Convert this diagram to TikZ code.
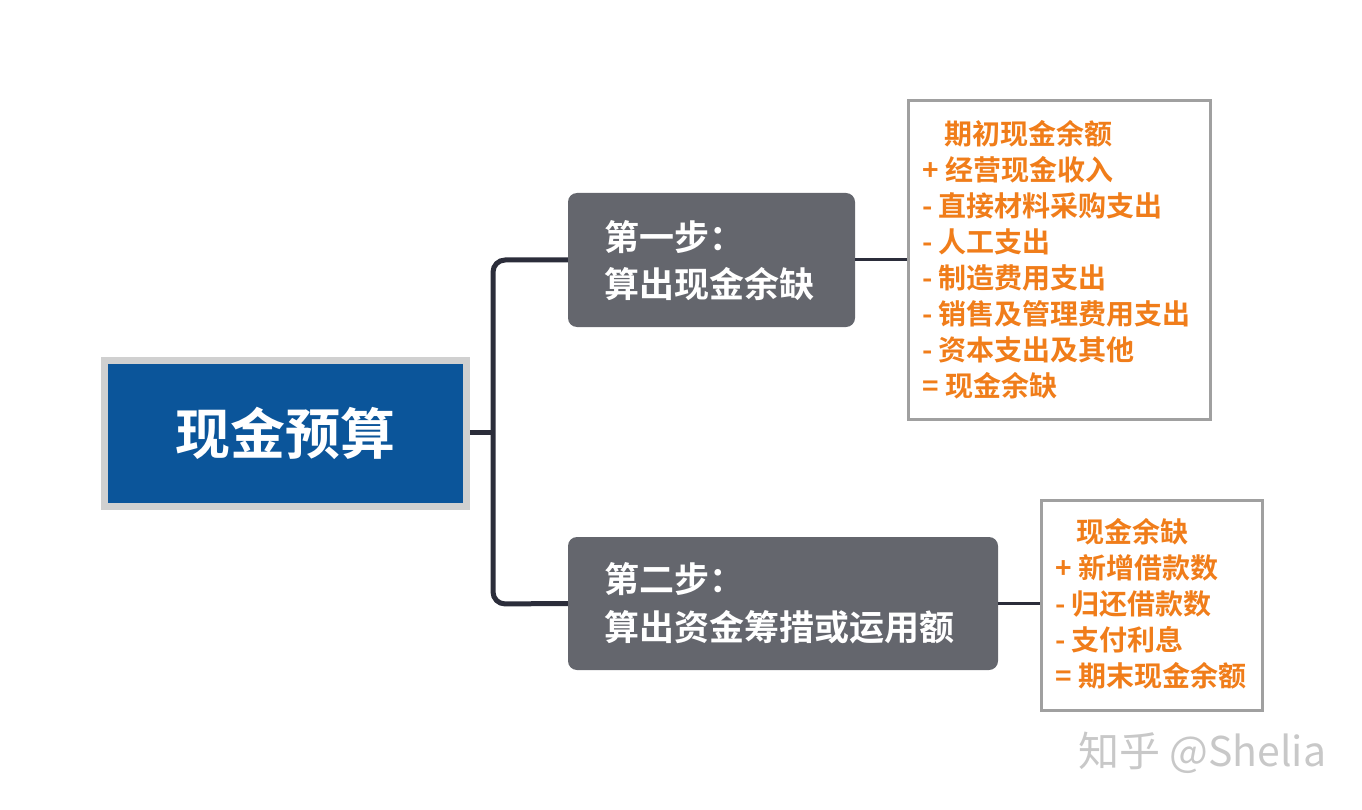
\documentclass[tikz,border=0pt]{standalone}
\usepackage{fontspec}
\setmainfont{Noto Sans CJK SC}[BoldFont={Noto Sans CJK SC Bold}]
\definecolor{rootblue}{HTML}{0B559A}
\definecolor{rootgray}{HTML}{D0D0D0}
\definecolor{stepgray}{HTML}{64666D}
\definecolor{linedark}{HTML}{2B2D3A}
\definecolor{orange}{HTML}{F07D1A}
\definecolor{listborder}{HTML}{A0A0A0}
\definecolor{wm}{HTML}{C8C8C8}
\begin{document}
\begin{tikzpicture}[x=1pt,y=-1pt,
  stepbox/.style={fill=stepgray,rounded corners=9pt,inner sep=0pt},
  steptext/.style={text=white,font=\fontsize{35}{40}\selectfont\bfseries,anchor=west,inner sep=0pt},
  item/.style={text=orange,font=\fontsize{28}{32}\selectfont\bfseries,anchor=west,inner sep=0pt},
  listbox/.style={draw=listborder,line width=3pt},
  conn/.style={draw=linedark,line width=5pt},
  thin/.style={draw=linedark,line width=3pt}]
\useasboundingbox (0,0) rectangle (1362,810);
% root
\fill[rootgray] (101,357) rectangle (470,510);
\node[fill=rootblue,minimum width=355pt,minimum height=139pt,inner sep=0pt,text=white,font=\fontsize{55}{64}\selectfont\bfseries] (root) at (285.5,433.5) {现金预算};
% step boxes
\node[stepbox,minimum width=287pt,minimum height=134pt] (s1) at (711.5,260) {};
\node[stepbox,minimum width=430pt,minimum height=133pt] (s2) at (783,603.5) {};
\node[steptext] (s1a) at (604,237) {第一步：};
\node[steptext] (s1b) at (604,284) {算出现金余缺};
\node[steptext] (s2a) at (604,579) {第二步：};
\node[steptext] (s2b) at (604,627) {算出资金筹措或运用额};
% connectors
\coordinate (j) at (493,432);
\draw[conn] (470,432) -- (j);
\draw[conn,rounded corners=12pt] (s1.west) -- (493,260) -- (493,604) -- (s2.west);
% lists
\node[listbox,minimum width=302pt,minimum height=318pt] (l1) at (1059,260) {};
\node[listbox,minimum width=221pt,minimum height=210pt] (l2) at (1151.5,605) {};
\draw[thin] (s1.east) -- (l1.west|-s1.east);
\draw[thin] (s2.east) -- (l2.west|-s2.east);
\node[item] (a1) at (944,134) {期初现金余额};
\node[item] (a2) at (922,170) {+ 经营现金收入};
\node[item] (a3) at (922,206) {- 直接材料采购支出};
\node[item] (a4) at (922,242) {- 人工支出};
\node[item] (a5) at (922,278) {- 制造费用支出};
\node[item] (a6) at (922,314) {- 销售及管理费用支出};
\node[item] (a7) at (922,350) {- 资本支出及其他};
\node[item] (a8) at (922,386) {= 现金余缺};
\node[item] (b1) at (1076,532) {现金余缺};
\node[item] (b2) at (1055,568) {+ 新增借款数};
\node[item] (b3) at (1055,604) {- 归还借款数};
\node[item] (b4) at (1055,640) {- 支付利息};
\node[item] (b5) at (1055,676) {= 期末现金余额};
% watermark
\node[text=wm,font=\fontsize{41}{48}\selectfont,anchor=west,inner sep=0pt] (wmk) at (1078,753) {知乎 @Shelia};
\end{tikzpicture}
\end{document}
